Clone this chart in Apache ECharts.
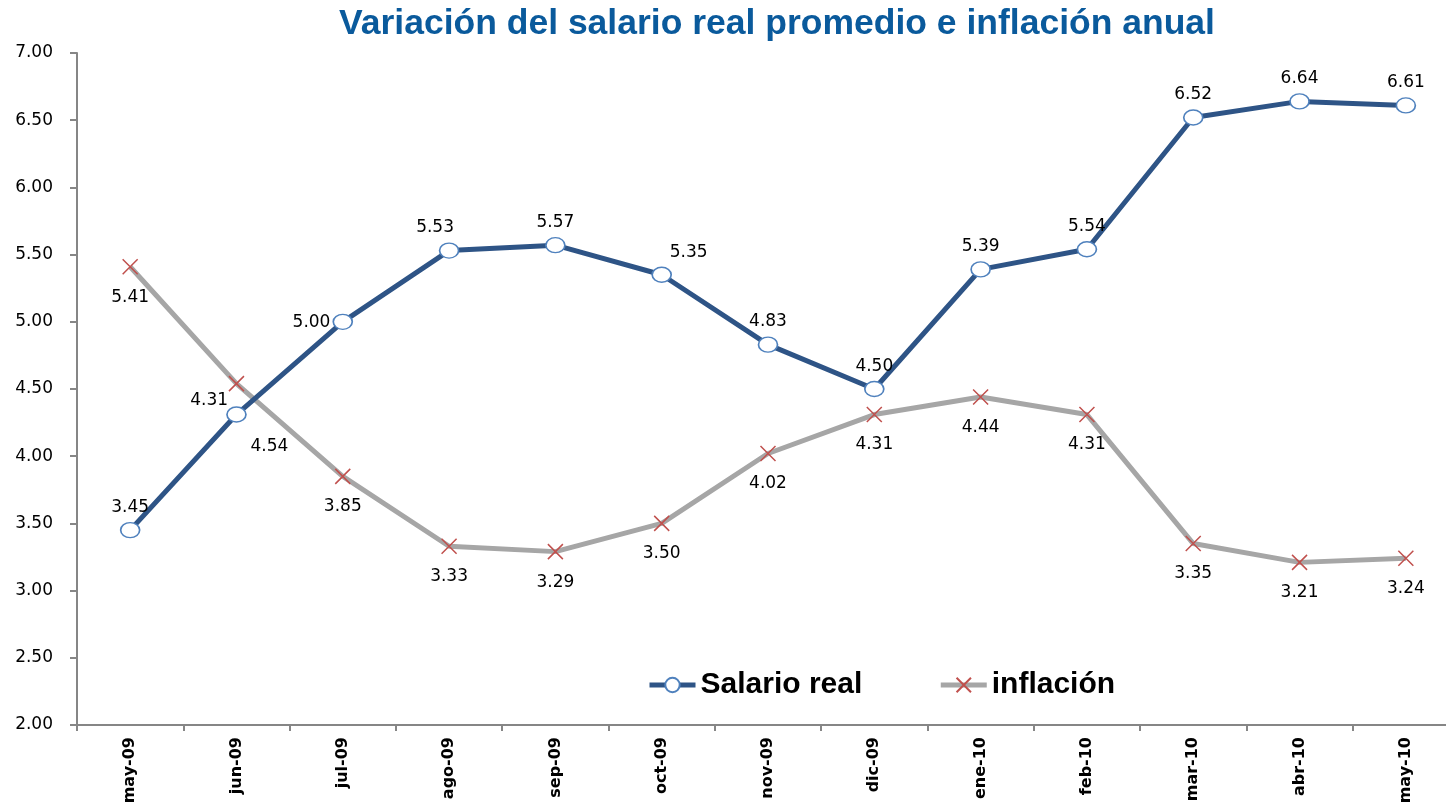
<!DOCTYPE html>
<html>
<head>
<meta charset="utf-8">
<title>Variación del salario real promedio e inflación anual</title>
<script src="https://cdn.jsdelivr.net/npm/echarts@6/dist/echarts.min.js"></script>
<style>
    html, body { margin: 0; padding: 0; background: #fff; overflow: hidden; }
    #chart { width: 1446px; height: 807px; }
</style>
</head>
<body>
<div id="chart"></div>
<script>
// ======================
// DATA
// ======================

const months = ['may-09', 'jun-09', 'jul-09', 'ago-09', 'sep-09', 'oct-09', 'nov-09',
    'dic-09', 'ene-10', 'feb-10', 'mar-10', 'abr-10', 'may-10'];
const salarioReal = [3.45, 4.31, 5.00, 5.53, 5.57, 5.35, 4.83, 4.50, 5.39, 5.54, 6.52, 6.64, 6.61];
const inflacion = [5.41, 4.54, 3.85, 3.33, 3.29, 3.50, 4.02, 4.31, 4.44, 4.31, 3.35, 3.21, 3.24];

// ======================
// LABEL PLACEMENT (Excel moved a few labels aside)
// ======================

const salarioLabels = {
    1: { position: 'left', distance: 0, offset: [2, -14] },
    2: { position: 'left', distance: 2, offset: [0, 1] },
    3: { position: 'top', distance: 6, offset: [-14, 0] },
    5: { position: 'top', distance: 6, offset: [27, 0] }
};
const inflacionLabels = {
    1: { position: 'bottom', distance: 12, offset: [33, 32] }
};

const chart = echarts.init(document.getElementById('chart'), null, { renderer: 'canvas' });

const fmt = v => Number(v).toFixed(2);

const salarioData = salarioReal.map((v, i) => (
    salarioLabels[i] ? { value: v, label: salarioLabels[i] } : { value: v }
));
const inflacionData = inflacion.map((v, i) => (
    inflacionLabels[i] ? { value: v, label: inflacionLabels[i] } : { value: v }
));

const option = {
    backgroundColor: '#ffffff',
    animation: false,
    title: {
        text: 'Variación del salario real promedio e inflación anual',
        left: 334,
        top: 1,
        textStyle: {
            fontFamily: 'Liberation Sans',
            fontSize: 35.5,
            fontWeight: 'bold',
            color: '#0A5A9C'
        }
    },
    legend: {
        left: 642,
        top: 665,
        itemGap: 76,
        itemWidth: 46,
        itemHeight: 18,
        lineStyle: { width: 5 },
        textStyle: {
            fontFamily: 'Liberation Sans',
            fontSize: 30,
            fontWeight: 'bold',
            color: '#000'
        },
        data: ['Salario real', 'inflación']
    },
    grid: {
        left: 77,
        width: 1382,
        top: 53,
        bottom: 82,
        outerBoundsMode: 'none',
        containLabel: false
    },
    xAxis: {
        type: 'category',
        data: months,
        boundaryGap: true,
        axisLine: { lineStyle: { color: '#868686', width: 2 } },
        axisTick: { show: true, alignWithLabel: false, length: 6, lineStyle: { color: '#868686', width: 2 } },
        axisLabel: {
            rotate: 90,
            interval: 0,
            margin: 12,
            fontFamily: 'DejaVu Sans',
            fontSize: 16,
            fontWeight: 'bold',
            color: '#000'
        },
        splitLine: { show: false }
    },
    yAxis: {
        type: 'value',
        min: 2,
        max: 7,
        interval: 0.5,
        axisLine: { show: true, lineStyle: { color: '#868686', width: 2 } },
        axisTick: { show: true, length: 7, lineStyle: { color: '#868686', width: 2 } },
        axisLabel: {
            margin: 24,
            formatter: fmt,
            fontFamily: 'DejaVu Sans',
            fontSize: 17,
            color: '#000'
        },
        splitLine: { show: false }
    },
    series: [
        {
            name: 'Salario real',
            type: 'line',
            data: salarioData,
            symbol: 'circle',
            symbolSize: [19, 15],
            showAllSymbol: true,
            lineStyle: { color: '#2E5486', width: 5 },
            itemStyle: { color: '#ffffff', borderColor: '#4F81BD', borderWidth: 1.5 },
            label: {
                show: true,
                position: 'top',
                distance: 6,
                formatter: p => fmt(p.value),
                fontFamily: 'DejaVu Sans',
                fontSize: 17,
                color: '#000'
            },
            z: 3
        },
        {
            name: 'inflación',
            type: 'line',
            data: inflacionData,
            symbol: 'path://M0,0 L10,10 M10,0 L0,10',
            symbolSize: 15,
            showAllSymbol: true,
            lineStyle: { color: '#A6A6A6', width: 5 },
            itemStyle: { color: 'none', borderColor: '#C0504D', borderWidth: 1.5 },
            label: {
                show: true,
                position: 'bottom',
                distance: 12,
                formatter: p => fmt(p.value),
                fontFamily: 'DejaVu Sans',
                fontSize: 17,
                color: '#000'
            },
            z: 2
        }
    ]
};

chart.setOption(option);
</script>
</body>
</html>
